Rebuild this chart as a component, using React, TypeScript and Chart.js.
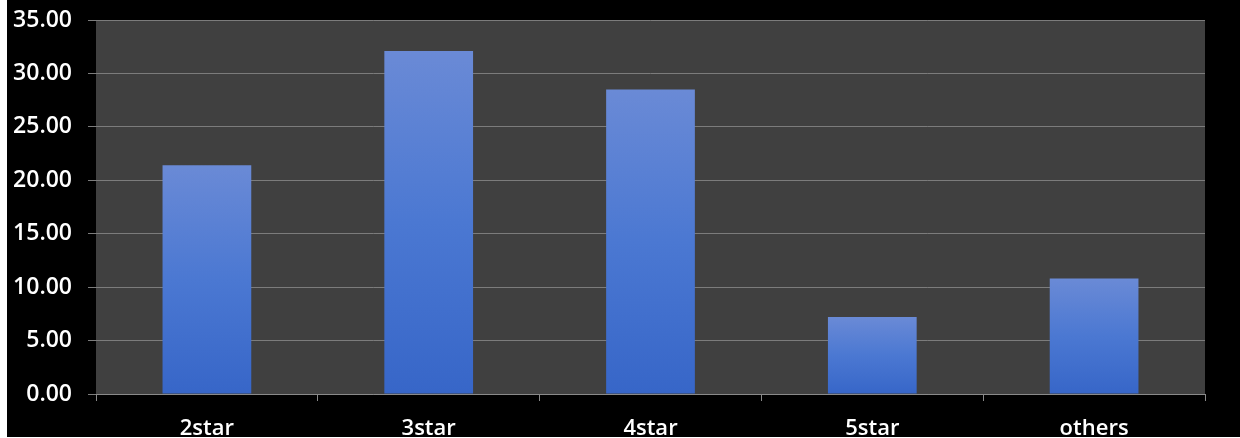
import React, { useEffect, useRef } from "react";
import { Chart, registerables } from "chart.js";

Chart.register(...registerables);

const categories = ["2star", "3star", "4star", "5star", "others"];
const values = [21.4, 32.1, 28.5, 7.2, 10.8];
const yMin = 0;
const yMax = 35;
const yStep = 5;

const bgPlugin = {
  id: "bgPlugin",
  beforeDraw(chart: any) {
    const { ctx, chartArea, width, height } = chart;
    ctx.save();
    ctx.fillStyle = "#000000";
    ctx.fillRect(0, 0, width, height);
    if (chartArea) {
      ctx.fillStyle = "#404040";
      ctx.fillRect(chartArea.left, chartArea.top, chartArea.right - chartArea.left, chartArea.bottom - chartArea.top);
    }
    ctx.restore();
  },
};

export default function App() {
  const ref = useRef<HTMLCanvasElement>(null);
  useEffect(() => {
    document.body.style.margin = "0";
    document.body.style.background = "#ffffff";
    const canvas = ref.current!;
    const chart = new Chart(canvas, {
      type: "bar",
      data: {
        labels: categories,
        datasets: [
          {
            data: values,
            backgroundColor: (c: any) => {
              const ch = c.chart;
              const area = ch.chartArea;
              if (!area || !ch.scales || !ch.scales.y || c.parsed == null) return "#4a78d0";
              const y = ch.scales.y;
              const top = y.getPixelForValue(c.parsed.y);
              const bottom = y.getPixelForValue(0);
              if (!isFinite(top) || !isFinite(bottom) || top === bottom) return "#4a78d0";
              const g = ch.ctx.createLinearGradient(0, top, 0, bottom);
              g.addColorStop(0, "#6a8ad6");
              g.addColorStop(0.5, "#4b78d2");
              g.addColorStop(1, "#3766c8");
              return g;
            },
            borderWidth: 0,
            barPercentage: 0.4,
            categoryPercentage: 1,
          },
        ],
      },
      options: {
        animation: false,
        responsive: false,
        maintainAspectRatio: false,
        layout: { padding: { top: 20, right: 35, left: 0, bottom: 0 } },
        plugins: { legend: { display: false }, tooltip: { enabled: false } },
        scales: {
          x: {
            grid: {
              display: true,
              offset: true,
              drawOnChartArea: false,
              drawTicks: true,
              tickLength: 7,
              color: "#8a8a8a",
            },
            border: { display: true, color: "#8a8a8a", width: 1 },
            ticks: {
              color: "#ffffff",
              padding: 15,
              font: { family: "'Open Sans', sans-serif", size: 22, weight: "600" },
            },
            afterFit(scale: any) {
              scale.height = 43;
              scale.paddingLeft = 0;
              scale.paddingRight = 0;
            },
          },
          y: {
            min: yMin,
            max: yMax,
            grid: {
              display: true,
              color: "#7c7c7c",
              lineWidth: 1,
              drawTicks: true,
              tickLength: 8,
            },
            border: { display: false },
            ticks: {
              stepSize: yStep,
              color: "#ffffff",
              padding: 16,
              font: { family: "'Open Sans', sans-serif", size: 23, weight: "600" },
              callback: (v: any) => Number(v).toFixed(2),
            },
            afterFit(scale: any) {
              scale.width = 89;
              scale.paddingTop = 0;
              scale.paddingBottom = 0;
            },
          },
        },
      },
      plugins: [bgPlugin],
    } as any);
    return () => chart.destroy();
  }, []);
  return (
    <div style={{ width: 1240, height: 438, background: "#ffffff", position: "relative" }}>
      <canvas
        ref={ref}
        width={1233}
        height={437}
        style={{ position: "absolute", left: 7, top: 0, width: 1233, height: 437 }}
      />
    </div>
  );
}
